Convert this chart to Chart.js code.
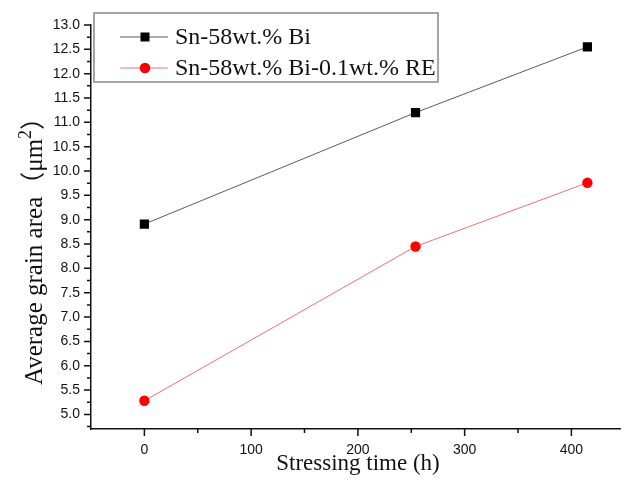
<!DOCTYPE html>
<html>
<head>
<meta charset="utf-8">
<script src="https://cdn.jsdelivr.net/npm/chart.js@4.4.1/dist/chart.umd.min.js"></script>
<style>
  html, body { margin: 0; padding: 0; background: #fff; }
  #wrap { width: 627px; height: 482px; }
</style>
</head>
<body>
<div id="wrap"><canvas id="c" width="627" height="482"></canvas></div>
<script>
// ---- data ----
const stressTime = [0, 254, 415];
const snBi = [8.91, 11.20, 12.55];
const snBiRE = [5.28, 8.45, 9.76];
const seriesNames = ['Sn-58wt.% Bi', 'Sn-58wt.% Bi-0.1wt.% RE'];
const xTickLabels = [0, 100, 200, 300, 400];
const yTickLabels = [5.0, 5.5, 6.0, 6.5, 7.0, 7.5, 8.0, 8.5, 9.0, 9.5, 10.0, 10.5, 11.0, 11.5, 12.0, 12.5, 13.0];
const xTitle = 'Stressing time (h)';
const yTitleMain = 'Average grain area（μm';
const yTitleSup = '2';
const yTitleEnd = '）';

const SERIF = '"Liberation Serif", "Times New Roman", "Noto Sans CJK SC", serif';
const SANS = '"Liberation Sans", Arial, sans-serif';

const toPts = (xs, ys) => xs.map((x, i) => ({ x: x, y: ys[i] }));

const decor = {
  id: 'decor',
  afterDraw(chart) {
    const ctx = chart.ctx;
    const xs = chart.scales.x, ys = chart.scales.y;
    const a = chart.chartArea;
    ctx.save();
    ctx.strokeStyle = '#111';
    ctx.lineWidth = 1.5;
    // y ticks
    ctx.beginPath();
    for (let i = 0; i < yTickLabels.length; i++) {
      const v = yTickLabels[i];
      const p = ys.getPixelForValue(v);
      ctx.moveTo(a.left, p); ctx.lineTo(a.left - 7, p);
      const m = ys.getPixelForValue(v - 0.25);
      if (m <= a.bottom) { ctx.moveTo(a.left, m); ctx.lineTo(a.left - 4, m); }
    }
    // x ticks
    for (let i = 0; i < xTickLabels.length; i++) {
      const v = xTickLabels[i];
      const p = xs.getPixelForValue(v);
      ctx.moveTo(p, a.bottom); ctx.lineTo(p, a.bottom + 7);
      const m = xs.getPixelForValue(v + 50);
      if (m <= a.right) { ctx.moveTo(m, a.bottom); ctx.lineTo(m, a.bottom + 4); }
    }
    ctx.stroke();

    // axis titles
    ctx.fillStyle = '#111';
    ctx.font = '23px ' + SERIF;
    ctx.textAlign = 'center';
    ctx.textBaseline = 'middle';
    ctx.fillText(xTitle, 358, 464);

    ctx.save();
    ctx.translate(34, 245);
    ctx.rotate(-Math.PI / 2);
    ctx.font = '25px ' + SERIF;
    const w1 = ctx.measureText(yTitleMain).width;
    ctx.font = '18px ' + SERIF;
    const w2 = ctx.measureText(yTitleSup).width;
    ctx.font = '25px ' + SERIF;
    const w3 = ctx.measureText(yTitleEnd).width;
    const tot = w1 + w2 + w3;
    let x0 = -tot / 2;
    ctx.textAlign = 'left';
    ctx.textBaseline = 'alphabetic';
    ctx.fillText(yTitleMain, x0, 8);
    ctx.font = '18px ' + SERIF;
    ctx.fillText(yTitleSup, x0 + w1, -3);
    ctx.font = '25px ' + SERIF;
    ctx.fillText(yTitleEnd, x0 + w1 + w2, 8);
    ctx.restore();

    // legend
    const L = { x: 94, y: 13, w: 344, h: 69 };
    ctx.fillStyle = '#fff';
    ctx.fillRect(L.x, L.y, L.w, L.h);
    ctx.strokeStyle = '#888';
    ctx.lineWidth = 1.5;
    ctx.strokeRect(L.x, L.y, L.w, L.h);
    chart.data.datasets.forEach((ds, i) => {
      const yy = L.y + 24 + i * 31;
      ctx.strokeStyle = ds.borderColor;
      ctx.lineWidth = 1;
      ctx.beginPath(); ctx.moveTo(120, yy); ctx.lineTo(168, yy); ctx.stroke();
      ctx.fillStyle = ds.pointBackgroundColor;
      if (ds.pointStyle === 'rect') {
        ctx.fillRect(145 - 4.5, yy - 4.5, 9, 9);
      } else {
        ctx.beginPath(); ctx.arc(145, yy, 5.3, 0, Math.PI * 2); ctx.fill();
      }
      ctx.fillStyle = '#111';
      ctx.font = '24px ' + SERIF;
      ctx.textAlign = 'left';
      ctx.textBaseline = 'middle';
      ctx.fillText(ds.label, 175, yy + 1);
    });
    ctx.restore();
  }
};

new Chart(document.getElementById('c'), {
  type: 'line',
  data: {
    datasets: [
      {
        label: seriesNames[0],
        data: toPts(stressTime, snBi),
        borderColor: '#5a5a5a',
        borderWidth: 1,
        pointStyle: 'rect',
        pointRadius: 6.5,
        pointBackgroundColor: '#000',
        pointBorderColor: '#000',
        pointBorderWidth: 0,
        tension: 0
      },
      {
        label: seriesNames[1],
        data: toPts(stressTime, snBiRE),
        borderColor: '#f07070',
        borderWidth: 1,
        pointStyle: 'circle',
        pointRadius: 5.2,
        pointBackgroundColor: '#f00',
        pointBorderColor: '#f00',
        pointBorderWidth: 0,
        tension: 0
      }
    ]
  },
  options: {
    responsive: false,
    animation: false,
    layout: { padding: { top: 25, right: 0, left: 0, bottom: 0 } },
    plugins: { legend: { display: false }, tooltip: { enabled: false } },
    scales: {
      x: {
        type: 'linear',
        min: -50,
        max: 446,
        afterBuildTicks: s => { s.ticks = xTickLabels.map(v => ({ value: v })); },
        afterFit: s => { s.height = 53; s.paddingRight = 0; s.paddingLeft = 0; },
        grid: { display: true, drawOnChartArea: false, drawTicks: true, tickLength: 7, color: 'transparent' },
        border: { display: true, color: '#111', width: 1.5 },
        ticks: { color: '#111', font: { family: SANS, size: 14 }, padding: 6, autoSkip: false, maxRotation: 0,
                 callback: v => String(v) }
      },
      y: {
        type: 'linear',
        min: 4.7,
        max: 13.0,
        afterBuildTicks: s => { s.ticks = yTickLabels.map(v => ({ value: v })); },
        afterFit: s => { s.width = 91; },
        grid: { display: true, drawOnChartArea: false, drawTicks: true, tickLength: 8, color: 'transparent' },
        border: { display: true, color: '#111', width: 1.5 },
        ticks: { color: '#111', font: { family: SANS, size: 14 }, padding: 3, autoSkip: false,
                 callback: v => Number(v).toFixed(1) }
      }
    }
  },
  plugins: [decor]
});
</script>
</body>
</html>
